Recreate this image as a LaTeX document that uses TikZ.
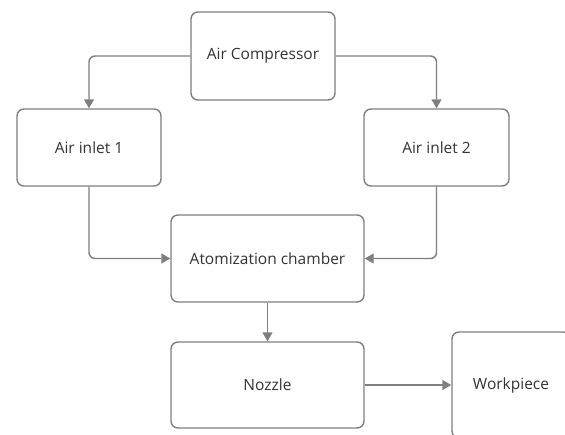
\documentclass[tikz,border=0pt]{standalone}
\usepackage{fontspec}
\setmainfont{Open Sans}
\usetikzlibrary{arrows.meta}
\definecolor{linegray}{HTML}{7F7F7F}
\definecolor{textgray}{HTML}{333333}
\begin{document}
\begin{tikzpicture}[x=1pt, y=-1pt,
    blocco/.style={draw=linegray, line width=1.4pt, rounded corners=7pt, fill=white,
        inner sep=0pt, text=textgray, font=\fontsize{15.5}{18}\selectfont},
    freccia/.style={draw=linegray, line width=1.4pt, rounded corners=6pt,
        -{Triangle[length=9pt,width=10pt]}}]
    \useasboundingbox (0,0) rectangle (565,434);
    \clip (0,0) rectangle (565,434);
    %disegno blocchi
    \node[blocco, minimum width=144pt, minimum height=88pt] (comp) at (263,56) {Air Compressor};
    \node[blocco, minimum width=144pt, minimum height=77pt] (in1) at (89,147.5) {Air inlet 1};
    \node[blocco, minimum width=145pt, minimum height=77pt] (in2) at (436.5,147.5) {Air inlet 2};
    \node[blocco, minimum width=193pt, minimum height=87pt] (atom) at (267.5,258.5) {Atomization chamber};
    \node[blocco, minimum width=193pt, minimum height=86pt] (nozzle) at (267.5,385) {Nozzle};
    \node[blocco, minimum width=118pt, minimum height=106pt] (work) at (511,385) {Workpiece};
    %disegno collegamenti
    \draw[freccia] (comp.west) -| (in1.north);
    \draw[freccia] (comp.east) -| (in2.north);
    \draw[freccia] (in1.south) |- (atom.west);
    \draw[freccia] (in2.south) |- (atom.east);
    \draw[freccia] (atom.south) -- (nozzle.north);
    \draw[freccia] (nozzle.east) -- (work.west);
\end{tikzpicture}
\end{document}
